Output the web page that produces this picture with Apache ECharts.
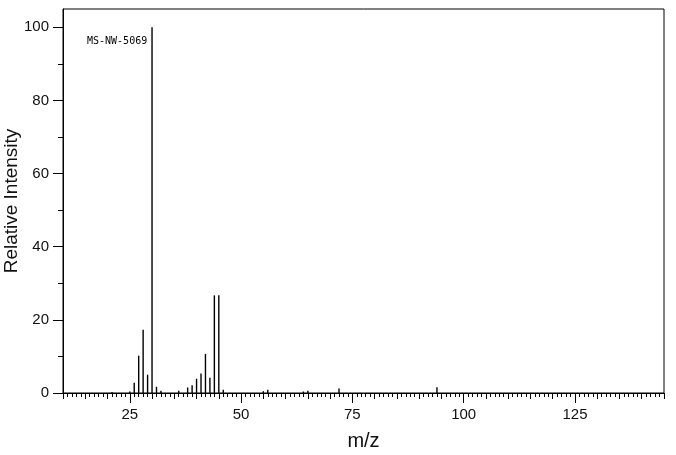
<!DOCTYPE html>
<html><head><meta charset="utf-8">
<script src="https://cdn.jsdelivr.net/npm/echarts@6/dist/echarts.min.js"></script>
<style>html,body{margin:0;padding:0;background:#fff}#c{width:676px;height:455px}</style>
</head><body><div id="c"></div>
<script>
const mz = [21,25,26,27,28,29,30,31,32,36,38,39,40,41,42,43,44,45,46,55,56,64,65,72,94];
const intensity = [0.3,0.4,2.8,10.2,17.3,5.0,100,1.7,0.6,0.6,1.5,2.1,3.9,5.3,10.7,4.2,26.7,26.7,0.9,0.5,0.9,0.4,0.6,1.2,1.6];
const xTickLabels = [25,50,75,100,125];
const yTickLabels = [0,20,40,60,80,100];
const yMinorTicks = [10,30,50,70,90];
const spectrumId = 'MS-NW-5069';

const FONT = 'Liberation Sans';
const X_MIN = 10, X_MAX = 145, Y_MIN = 0, Y_MAX = 105;
const black = '#000';

const baseX = {
  type: 'value', min: X_MIN, max: X_MAX, position: 'bottom', offset: 0,
  splitLine: {show: false}
};
const baseY = {
  type: 'value', min: Y_MIN, max: Y_MAX, position: 'left', offset: 0,
  splitLine: {show: false}
};

const chart = echarts.init(document.getElementById('c'), null, {renderer: 'canvas'});
chart.setOption({
  animation: false,
  backgroundColor: '#fff',
  grid: {left: 63, right: 12, top: 9, bottom: 62, show: true, borderColor: black, borderWidth: 1, backgroundColor: 'transparent', containLabel: false, outerBoundsMode: 'none'},
  xAxis: [
    Object.assign({}, baseX, {
      name: 'm/z', nameLocation: 'middle', nameGap: 38, nameMoveOverlap: false,
      nameTextStyle: {fontFamily: FONT, fontSize: 20, color: '#111', letterSpacing: 4},
      axisLine: {show: true, lineStyle: {color: black, width: 1}},
      axisTick: {show: true, customValues: xTickLabels, length: 10, lineStyle: {color: black}},
      axisLabel: {show: true, customValues: xTickLabels, margin: 14, fontFamily: FONT, fontSize: 15, color: '#111'}
    }),
    Object.assign({}, baseX, {
      interval: 5,
      axisLine: {show: false},
      axisTick: {show: true, length: 6, lineStyle: {color: black}},
      axisLabel: {show: false}
    }),
    Object.assign({}, baseX, {
      interval: 1,
      axisLine: {show: false},
      axisTick: {show: true, length: 4, lineStyle: {color: black}},
      axisLabel: {show: false}
    })
  ],
  yAxis: [
    Object.assign({}, baseY, {
      name: 'Relative Intensity', nameLocation: 'middle', nameGap: 42, nameMoveOverlap: false,
      nameTextStyle: {fontFamily: FONT, fontSize: 19, color: '#111', letterSpacing: 0.5},
      axisLine: {show: true, lineStyle: {color: black, width: 1}},
      axisTick: {show: true, customValues: yTickLabels, length: 10, lineStyle: {color: black}},
      axisLabel: {show: true, customValues: yTickLabels, margin: 14, fontFamily: FONT, fontSize: 15, color: '#111'}
    }),
    Object.assign({}, baseY, {
      axisLine: {show: false},
      axisTick: {show: true, customValues: yMinorTicks, length: 5, lineStyle: {color: black}},
      axisLabel: {show: false}
    })
  ],
  graphic: [{
    type: 'text', left: 87, top: 36,
    style: {text: spectrumId, font: '10px "DejaVu Sans Mono"', fill: black}
  }],
  series: [{
    type: 'bar', xAxisIndex: 0, yAxisIndex: 0,
    barWidth: 1.4,
    itemStyle: {color: black},
    data: mz.map((m, i) => [m, intensity[i]])
  }]
});
</script></body></html>
